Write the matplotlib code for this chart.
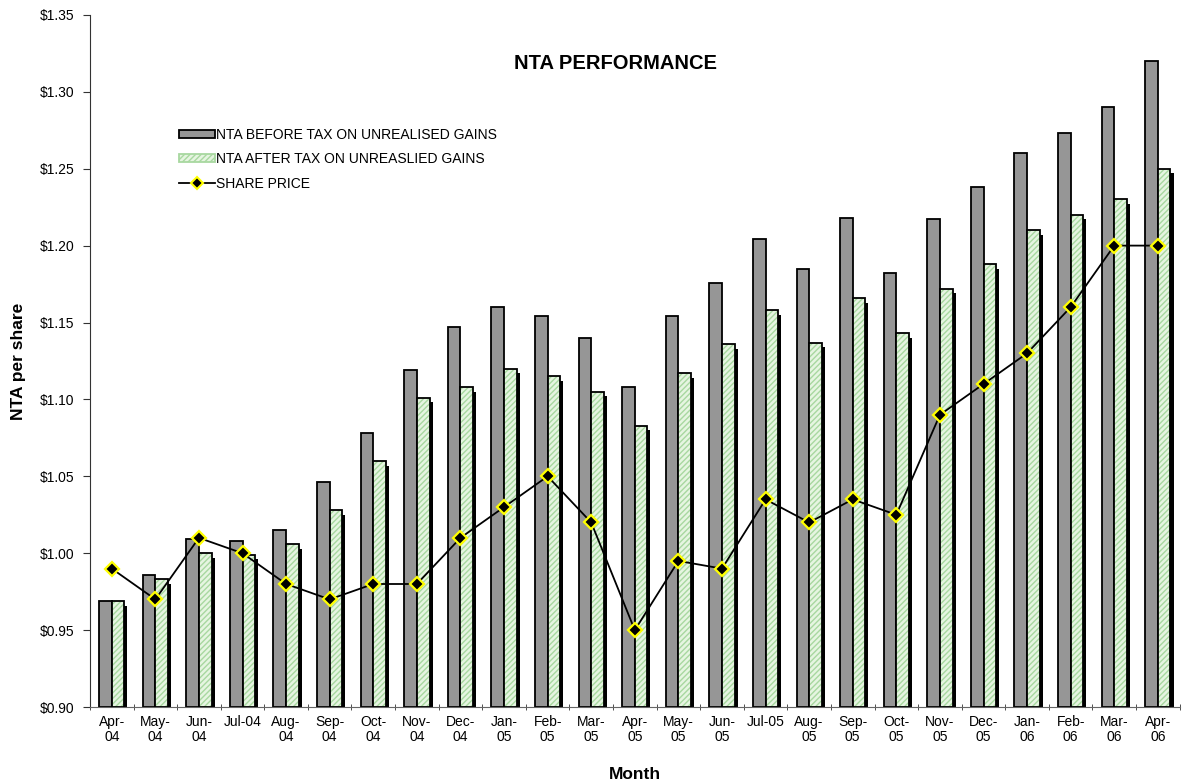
import matplotlib.pyplot as plt
import numpy as np
from matplotlib.patches import Patch
from matplotlib.lines import Line2D

plt.rcParams['font.family'] = ['Liberation Sans', 'DejaVu Sans']

months = ['Apr-\n04', 'May-\n04', 'Jun-\n04', 'Jul-04', 'Aug-\n04', 'Sep-\n04', 'Oct-\n04',
          'Nov-\n04', 'Dec-\n04', 'Jan-\n05', 'Feb-\n05', 'Mar-\n05', 'Apr-\n05', 'May-\n05',
          'Jun-\n05', 'Jul-05', 'Aug-\n05', 'Sep-\n05', 'Oct-\n05', 'Nov-\n05', 'Dec-\n05',
          'Jan-\n06', 'Feb-\n06', 'Mar-\n06', 'Apr-\n06']
nta_before = [0.969, 0.986, 1.009, 1.008, 1.015, 1.046, 1.078, 1.119, 1.147, 1.160, 1.154, 1.140,
              1.108, 1.154, 1.176, 1.204, 1.185, 1.218, 1.182, 1.217, 1.238, 1.260, 1.273, 1.290, 1.320]
nta_after = [0.969, 0.983, 1.000, 0.999, 1.006, 1.028, 1.060, 1.101, 1.108, 1.120, 1.115, 1.105,
             1.083, 1.117, 1.136, 1.158, 1.137, 1.166, 1.143, 1.172, 1.188, 1.210, 1.220, 1.230, 1.250]
share_price = [0.99, 0.97, 1.01, 1.00, 0.98, 0.97, 0.98, 0.98, 1.01, 1.03, 1.05, 1.02, 0.95,
               0.995, 0.99, 1.035, 1.02, 1.035, 1.025, 1.09, 1.11, 1.13, 1.16, 1.20, 1.20]
yticks = [0.90, 0.95, 1.00, 1.05, 1.10, 1.15, 1.20, 1.25, 1.30, 1.35]

fig = plt.figure(figsize=(11.87, 7.83), dpi=100)
ax = fig.add_axes([0.0758, 0.097, 0.918, 0.884])

x = np.arange(len(months))
w = 0.29
base = 0.90
before = np.array(nta_before) - base
after = np.array(nta_after) - base

# shadow behind the green bars
ax.bar(x + w / 2 + 0.07, after - 0.003, w, bottom=base, color='black', zorder=1)
ax.bar(x - w / 2, before, w, bottom=base, color='#969696', edgecolor='black', linewidth=1.3, zorder=2)
ax.bar(x + w / 2, after, w, bottom=base, color='#e6f5e1', edgecolor='#a8d8a0', hatch='//////',
       linewidth=0, zorder=2)
ax.bar(x + w / 2, after, w, bottom=base, fill=False, edgecolor='black', linewidth=1.3, zorder=3)

ax.plot(x, share_price, color='black', lw=1.3, marker='D', markersize=7,
        markerfacecolor='black', markeredgecolor='#ffff00', markeredgewidth=1.6, zorder=4)

ax.set_xlim(-0.5, len(months) - 0.5)
ax.set_ylim(0.90, 1.35)
ax.set_yticks(yticks)
ax.set_yticklabels(['$%.2f' % v for v in yticks], fontsize=10)
ax.set_xticks(x)
ax.set_xticklabels(months, fontsize=10, linespacing=1.1)
ax.set_xticks(np.arange(len(months) + 1) - 0.5, minor=True)
ax.tick_params(axis='x', which='major', length=0, pad=6)
ax.tick_params(axis='x', which='minor', length=5, direction='inout', color='#333333')
ax.tick_params(axis='y', length=5, direction='out', color='#333333', pad=6)

for s in ['top', 'right']:
    ax.spines[s].set_visible(False)
ax.spines['left'].set_color('#333333')
ax.spines['bottom'].set_color('#666666')

ax.set_ylabel('NTA per share', fontsize=12.5, fontweight='bold', labelpad=10)
ax.set_xlabel('Month', fontsize=12.5, fontweight='bold', labelpad=16)
ax.text(0.482, 0.93, 'NTA PERFORMANCE', transform=ax.transAxes, ha='center', va='center',
        fontsize=14.5, fontweight='bold')

handles = [Patch(facecolor='#969696', edgecolor='black', linewidth=1.3),
           Patch(facecolor='#e6f5e1', edgecolor='#a8d8a0', hatch='//////', linewidth=1.3),
           Line2D([0], [0], color='black', lw=1.3, marker='D', markersize=6,
                  markerfacecolor='black', markeredgecolor='#ffff00', markeredgewidth=1.5)]
labels = ['NTA BEFORE TAX ON UNREALISED GAINS', 'NTA AFTER TAX ON UNREASLIED GAINS', 'SHARE PRICE']
ax.legend(handles, labels, loc='upper left', bbox_to_anchor=(0.07, 0.855), frameon=False,
          fontsize=10, handlelength=2.6, handleheight=0.5, handletextpad=0.1, labelspacing=0.75)

fig.savefig('out.png', dpi=100)
